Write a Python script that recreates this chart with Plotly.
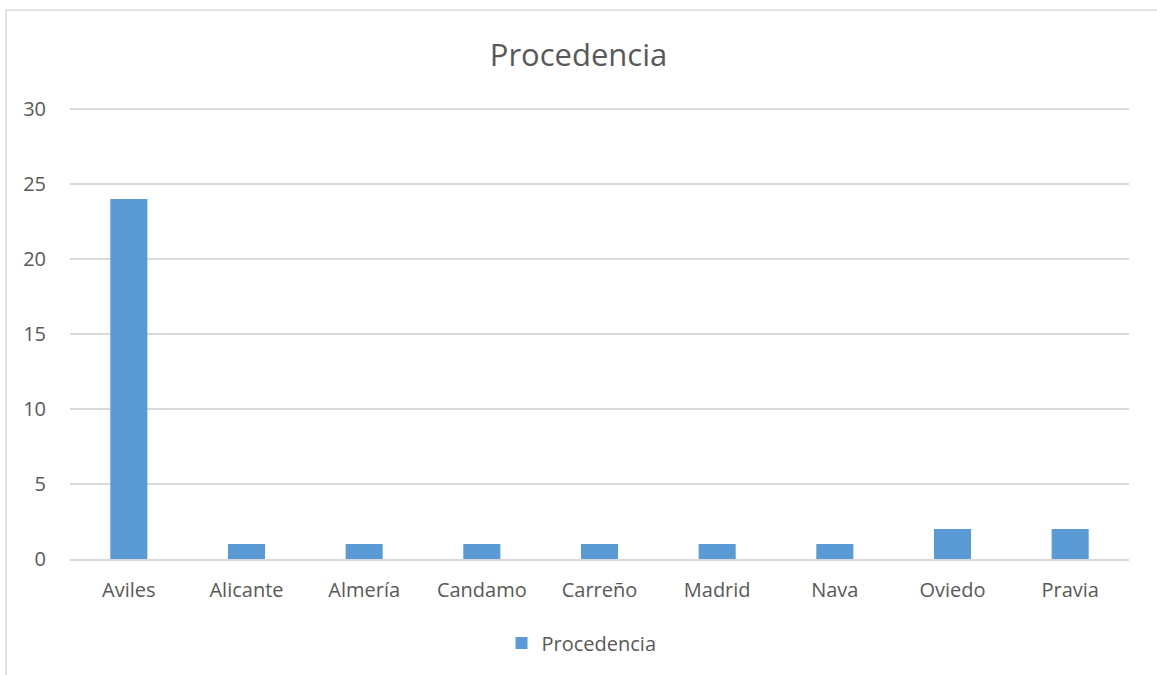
import plotly.graph_objects as go

categories = ["Aviles", "Alicante", "Almería", "Candamo", "Carreño", "Madrid", "Nava", "Oviedo", "Pravia"]
values = [24, 1, 1, 1, 1, 1, 1, 2, 2]
series_name = "Procedencia"
title_text = "Procedencia"
y_ticks = [0, 5, 10, 15, 20, 25, 30]

W, H = 1157, 675
pw, ph = 1059, 452          # plot area (px); top 2px headroom so the 30 gridline is kept
L, T = 70, 107
R = W - L - pw
B = H - T - ph
y_top = 30 * ph / 450

fig = go.Figure()
fig.add_trace(go.Bar(
    x=categories, y=values, name=series_name,
    marker=dict(color="#5B9BD5", line=dict(width=0)),
))

font_fam = "'Open Sans', sans-serif"
gray = "#595959"

# helpers: page px -> paper coordinates
def px_x(p):
    return (p - L) / pw
def px_y(p):
    return (H - B - p) / ph

fig.add_shape(type="rect", xref="paper", yref="paper",
              x0=px_x(6), x1=px_x(1200), y0=px_y(720), y1=px_y(10),
              line=dict(color="#d9d9d9", width=1.5), fillcolor="rgba(0,0,0,0)", layer="below")

fig.update_layout(
    width=W, height=H,
    margin=dict(l=L, r=R, t=T, b=B),
    paper_bgcolor="white", plot_bgcolor="white",
    font=dict(family=font_fam, color=gray, size=20),
    title=dict(text=title_text, x=0.5, xanchor="center", y=1 - 55 / H, yanchor="middle",
               font=dict(size=31, color=gray, family=font_fam)),
    bargap=0.685,
    showlegend=True,
    legend=dict(orientation="h", x=0.5 - 18 / pw, xanchor="center", y=px_y(643), yanchor="middle",
                font=dict(size=20, color=gray), itemwidth=30),
    xaxis=dict(showgrid=False, showline=True, linecolor="#d9d9d9", linewidth=1.5,
               ticks="", tickfont=dict(size=20, color=gray), ticklabelstandoff=12),
    yaxis=dict(range=[0, y_top], tickvals=y_ticks, showgrid=True, gridcolor="#d9d9d9", gridwidth=1.5,
               zeroline=False, showline=False, ticks="", ticklabelstandoff=23,
               tickfont=dict(size=20, color=gray)),
)

fig.write_html("out.html", config={"displayModeBar": False},
               post_script="document.body.style.margin='0';")
